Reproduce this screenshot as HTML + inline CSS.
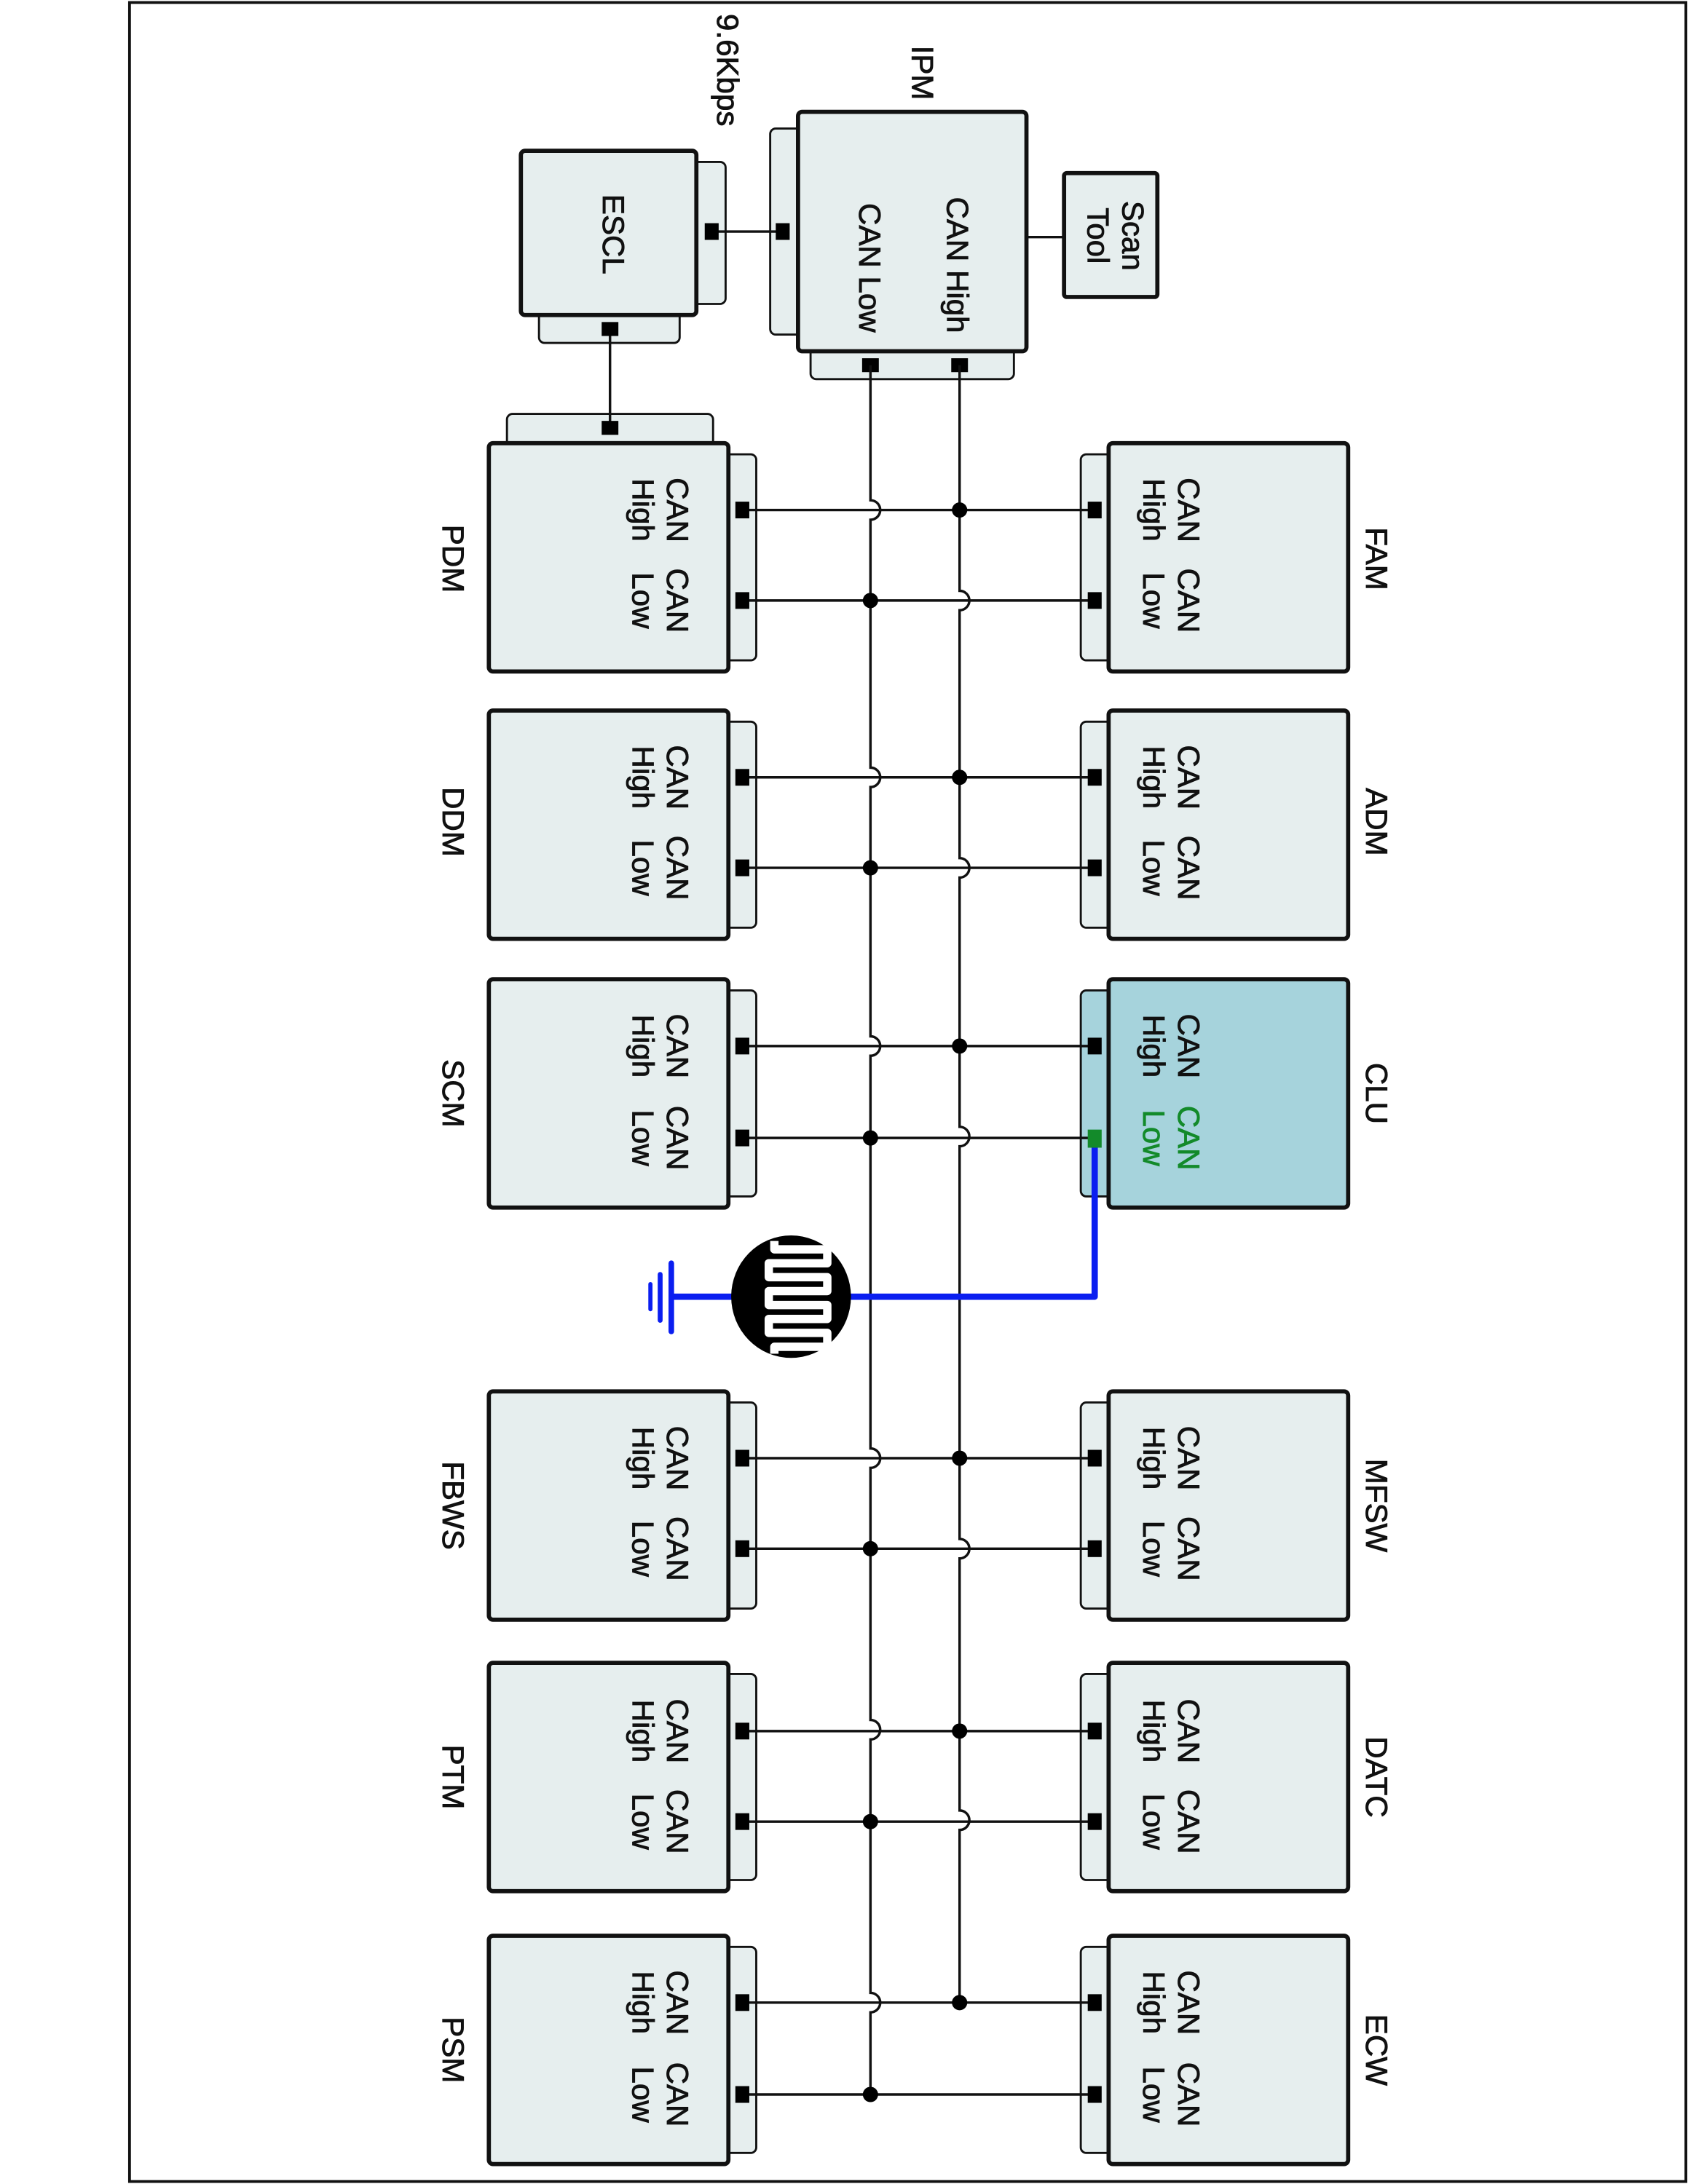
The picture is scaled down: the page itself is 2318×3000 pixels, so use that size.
<!DOCTYPE html>
<html><head><meta charset="utf-8"><style>
html,body{margin:0;padding:0;background:#fff}
svg{display:block}
.b{fill:#e6eeee;stroke:#111;stroke-width:3}
.t{fill:#e6eeee;stroke:#111;stroke-width:1.5}
.w{stroke:#111;stroke-width:1.8;fill:none}
text{font-family:"Liberation Sans",sans-serif;font-size:22px;fill:#111;stroke:#111;stroke-width:0.45;text-anchor:middle}
</style></head><body>
<svg width="2318" height="3000" viewBox="0 0 1212 1568" xmlns="http://www.w3.org/2000/svg">
<rect x="93" y="1.5" width="1117.5" height="1565" fill="#fff" stroke="#111" stroke-width="2"/>

<!-- IPM / ESCL / Scan tool -->
<rect class="t" x="553" y="92" width="24" height="148" rx="4"/>
<rect class="t" x="582" y="248" width="146" height="24" rx="4"/>
<rect class="b" x="573" y="80" width="164" height="172" rx="3"/>
<rect class="b" x="764" y="124" width="67" height="89" rx="2"/>
<line class="w" x1="737" y1="170" x2="764" y2="170"/>
<rect class="t" x="496" y="116" width="25" height="102" rx="4"/>
<rect class="t" x="387" y="222" width="101" height="24" rx="4"/>
<rect class="b" x="374" y="108" width="126" height="118" rx="3"/>
<rect class="t" x="364" y="297" width="148" height="26" rx="4"/>
<line class="w" x1="511" y1="166" x2="562" y2="166"/>
<line class="w" x1="438" y1="236" x2="438" y2="307"/>
<rect x="506" y="160" width="10" height="12"/>
<rect x="557" y="160" width="10" height="12"/>
<rect x="432" y="231" width="12" height="10"/>
<rect x="432" y="302" width="12" height="10"/>
<rect x="619" y="257" width="12" height="10"/>
<rect x="683" y="257" width="12" height="10"/>
<text transform="translate(680,190) rotate(90)">CAN High</text>
<text transform="translate(617,192) rotate(90)">CAN Low</text>
<text transform="translate(655,52) rotate(90)">IPM</text>
<text transform="translate(515,50) rotate(90)">9.6Kbps</text>
<text transform="translate(433,168) rotate(90)">ESCL</text>
<text transform="translate(806,169) rotate(90)">Scan</text>
<text transform="translate(781,169) rotate(90)">Tool</text>

<!-- Bus lines with hops -->
<path class="w" d="M689 262 V424 A7 7 0 0 1 689 438 V616 A7 7 0 0 1 689 630 V809 A7 7 0 0 1 689 823 V1105 A7 7 0 0 1 689 1119 V1300 A7 7 0 0 1 689 1314 V1438"/>
<path class="w" d="M625 262 V359 A7 7 0 0 1 625 373 V551 A7 7 0 0 1 625 565 V744 A7 7 0 0 1 625 758 V1040 A7 7 0 0 1 625 1054 V1235 A7 7 0 0 1 625 1249 V1431 A7 7 0 0 1 625 1445 V1503"/>

<!-- Row 1 -->
<rect class="t" x="776" y="326" width="24" height="148" rx="4"/><rect class="b" x="796" y="318" width="172" height="164" rx="3"/>
<rect class="t" x="519" y="326" width="24" height="148" rx="4"/><rect class="b" x="351" y="318" width="172" height="164" rx="3"/>
<line class="w" x1="533" y1="366" x2="786" y2="366"/><line class="w" x1="533" y1="431" x2="786" y2="431"/>
<rect x="528" y="360" width="10" height="12"/><rect x="781" y="360" width="10" height="12"/><rect x="528" y="425" width="10" height="12"/><rect x="781" y="425" width="10" height="12"/>
<circle cx="689" cy="366" r="5.5"/><circle cx="625" cy="431" r="5.5"/>
<text transform="translate(846,366) rotate(90)">CAN</text><text transform="translate(821,366) rotate(90)">High</text><text transform="translate(846,431) rotate(90)">CAN</text><text transform="translate(821,431) rotate(90)">Low</text>
<text transform="translate(479,366) rotate(90)">CAN</text><text transform="translate(454,366) rotate(90)">High</text><text transform="translate(479,431) rotate(90)">CAN</text><text transform="translate(454,431) rotate(90)">Low</text>
<text transform="translate(981,401) rotate(90)">FAM</text><text transform="translate(318,401) rotate(90)">PDM</text>

<!-- Row 2 -->
<rect class="t" x="776" y="518" width="24" height="148" rx="4"/><rect class="b" x="796" y="510" width="172" height="164" rx="3"/>
<rect class="t" x="519" y="518" width="24" height="148" rx="4"/><rect class="b" x="351" y="510" width="172" height="164" rx="3"/>
<line class="w" x1="533" y1="558" x2="786" y2="558"/><line class="w" x1="533" y1="623" x2="786" y2="623"/>
<rect x="528" y="552" width="10" height="12"/><rect x="781" y="552" width="10" height="12"/><rect x="528" y="617" width="10" height="12"/><rect x="781" y="617" width="10" height="12"/>
<circle cx="689" cy="558" r="5.5"/><circle cx="625" cy="623" r="5.5"/>
<text transform="translate(846,558) rotate(90)">CAN</text><text transform="translate(821,558) rotate(90)">High</text><text transform="translate(846,623) rotate(90)">CAN</text><text transform="translate(821,623) rotate(90)">Low</text>
<text transform="translate(479,558) rotate(90)">CAN</text><text transform="translate(454,558) rotate(90)">High</text><text transform="translate(479,623) rotate(90)">CAN</text><text transform="translate(454,623) rotate(90)">Low</text>
<text transform="translate(981,590) rotate(90)">ADM</text><text transform="translate(318,590) rotate(90)">DDM</text>

<!-- Row 3 (CLU) -->
<rect x="776" y="711" width="24" height="148" rx="4" fill="#a6d3dc" stroke="#111" stroke-width="1.5"/><rect x="796" y="703" width="172" height="164" rx="3" fill="#a6d3dc" stroke="#111" stroke-width="3"/>
<rect class="t" x="519" y="711" width="24" height="148" rx="4"/><rect class="b" x="351" y="703" width="172" height="164" rx="3"/>
<line class="w" x1="533" y1="751" x2="786" y2="751"/><line class="w" x1="533" y1="817" x2="786" y2="817"/>
<rect x="528" y="745" width="10" height="12"/><rect x="781" y="745" width="10" height="12"/><rect x="528" y="811" width="10" height="12"/><rect x="781" y="811" width="10" height="13" fill="#138a2a"/>
<circle cx="689" cy="751" r="5.5"/><circle cx="625" cy="817" r="5.5"/>
<text transform="translate(846,751) rotate(90)">CAN</text><text transform="translate(821,751) rotate(90)">High</text><text transform="translate(846,817) rotate(90)" style="fill:#138a2a;stroke:#138a2a">CAN</text><text transform="translate(821,817) rotate(90)" style="fill:#138a2a;stroke:#138a2a">Low</text>
<text transform="translate(479,751) rotate(90)">CAN</text><text transform="translate(454,751) rotate(90)">High</text><text transform="translate(479,817) rotate(90)">CAN</text><text transform="translate(454,817) rotate(90)">Low</text>
<text transform="translate(981,785) rotate(90)">CLU</text><text transform="translate(318,785) rotate(90)">SCM</text>

<!-- Sensor and ground -->
<path d="M786 824 V931 H482" fill="none" stroke="#0a1ef0" stroke-width="4.5" stroke-linejoin="round"/>
<line x1="482" y1="907" x2="482" y2="956" stroke="#0a1ef0" stroke-width="4" stroke-linecap="round"/>
<line x1="474" y1="915" x2="474" y2="948" stroke="#0a1ef0" stroke-width="3.5" stroke-linecap="round"/>
<line x1="467" y1="922" x2="467" y2="940" stroke="#0a1ef0" stroke-width="3" stroke-linecap="round"/>
<ellipse cx="568" cy="931" rx="43" ry="44" fill="#000"/>
<path d="M556 891 V897 H594 V907 H552 V917 H594 V927 H552 V937 H594 V947 H552 V957 H594 V967 H556 V972" fill="none" stroke="#fff" stroke-width="6" stroke-linejoin="round"/>

<!-- Row 4 -->
<rect class="t" x="776" y="1007" width="24" height="148" rx="4"/><rect class="b" x="796" y="999" width="172" height="164" rx="3"/>
<rect class="t" x="519" y="1007" width="24" height="148" rx="4"/><rect class="b" x="351" y="999" width="172" height="164" rx="3"/>
<line class="w" x1="533" y1="1047" x2="786" y2="1047"/><line class="w" x1="533" y1="1112" x2="786" y2="1112"/>
<rect x="528" y="1041" width="10" height="12"/><rect x="781" y="1041" width="10" height="12"/><rect x="528" y="1106" width="10" height="12"/><rect x="781" y="1106" width="10" height="12"/>
<circle cx="689" cy="1047" r="5.5"/><circle cx="625" cy="1112" r="5.5"/>
<text transform="translate(846,1047) rotate(90)">CAN</text><text transform="translate(821,1047) rotate(90)">High</text><text transform="translate(846,1112) rotate(90)">CAN</text><text transform="translate(821,1112) rotate(90)">Low</text>
<text transform="translate(479,1047) rotate(90)">CAN</text><text transform="translate(454,1047) rotate(90)">High</text><text transform="translate(479,1112) rotate(90)">CAN</text><text transform="translate(454,1112) rotate(90)">Low</text>
<text transform="translate(981,1081) rotate(90)">MFSW</text><text transform="translate(318,1081) rotate(90)">FBWS</text>

<!-- Row 5 -->
<rect class="t" x="776" y="1202" width="24" height="148" rx="4"/><rect class="b" x="796" y="1194" width="172" height="164" rx="3"/>
<rect class="t" x="519" y="1202" width="24" height="148" rx="4"/><rect class="b" x="351" y="1194" width="172" height="164" rx="3"/>
<line class="w" x1="533" y1="1243" x2="786" y2="1243"/><line class="w" x1="533" y1="1308" x2="786" y2="1308"/>
<rect x="528" y="1237" width="10" height="12"/><rect x="781" y="1237" width="10" height="12"/><rect x="528" y="1302" width="10" height="12"/><rect x="781" y="1302" width="10" height="12"/>
<circle cx="689" cy="1243" r="5.5"/><circle cx="625" cy="1308" r="5.5"/>
<text transform="translate(846,1243) rotate(90)">CAN</text><text transform="translate(821,1243) rotate(90)">High</text><text transform="translate(846,1308) rotate(90)">CAN</text><text transform="translate(821,1308) rotate(90)">Low</text>
<text transform="translate(479,1243) rotate(90)">CAN</text><text transform="translate(454,1243) rotate(90)">High</text><text transform="translate(479,1308) rotate(90)">CAN</text><text transform="translate(454,1308) rotate(90)">Low</text>
<text transform="translate(981,1276) rotate(90)">DATC</text><text transform="translate(318,1276) rotate(90)">PTM</text>

<!-- Row 6 -->
<rect class="t" x="776" y="1398" width="24" height="148" rx="4"/><rect class="b" x="796" y="1390" width="172" height="164" rx="3"/>
<rect class="t" x="519" y="1398" width="24" height="148" rx="4"/><rect class="b" x="351" y="1390" width="172" height="164" rx="3"/>
<line class="w" x1="533" y1="1438" x2="786" y2="1438"/><line class="w" x1="533" y1="1504" x2="786" y2="1504"/>
<rect x="528" y="1432" width="10" height="12"/><rect x="781" y="1432" width="10" height="12"/><rect x="528" y="1498" width="10" height="12"/><rect x="781" y="1498" width="10" height="12"/>
<circle cx="689" cy="1438" r="5.5"/><circle cx="625" cy="1504" r="5.5"/>
<text transform="translate(846,1438) rotate(90)">CAN</text><text transform="translate(821,1438) rotate(90)">High</text><text transform="translate(846,1504) rotate(90)">CAN</text><text transform="translate(821,1504) rotate(90)">Low</text>
<text transform="translate(479,1438) rotate(90)">CAN</text><text transform="translate(454,1438) rotate(90)">High</text><text transform="translate(479,1504) rotate(90)">CAN</text><text transform="translate(454,1504) rotate(90)">Low</text>
<text transform="translate(981,1472) rotate(90)">ECW</text><text transform="translate(318,1472) rotate(90)">PSM</text>
</svg>
</body></html>
